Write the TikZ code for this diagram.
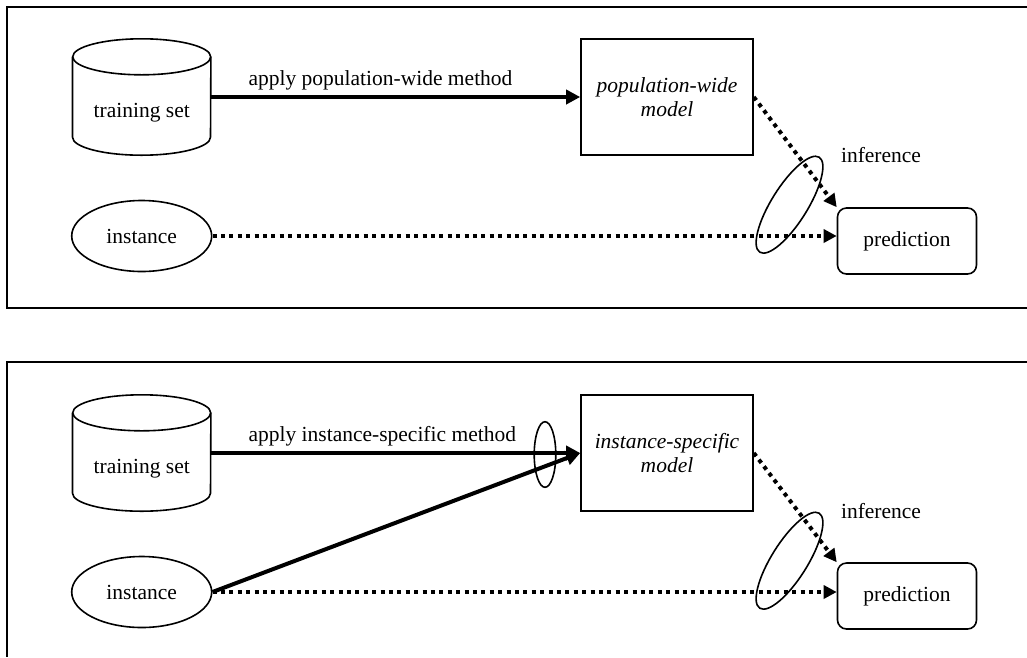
\documentclass[tikz,border=0pt]{standalone}
\usepackage{fontspec}
\setmainfont{Liberation Serif}
\usetikzlibrary{arrows.meta,shapes.geometric,calc}

\newcommand{\picsize}{\fontsize{21.5}{23.5}\selectfont}

\tikzset{
  frame/.style={line width=1.8pt},
  outline/.style={line width=1.6pt},
  dbnode/.style={minimum width=138pt, minimum height=116pt, inner sep=0pt,
    text height=45pt, text depth=5pt},
  modelbox/.style={draw, outline, minimum width=172pt, minimum height=116pt,
    inner sep=0pt, align=center, font=\picsize\itshape},
  instnode/.style={ellipse, draw, outline, minimum width=140pt,
    minimum height=71pt, inner sep=0pt},
  prednode/.style={rectangle, rounded corners=9pt, draw, outline,
    minimum width=139pt, minimum height=66pt, inner sep=0pt},
  ring/.style={ellipse, draw, outline, inner sep=0pt},
  learn/.style={line width=4pt, -{Triangle[length=14pt,width=14pt]}},
  infer/.style={line width=4pt, dash pattern=on 4pt off 4.4pt,
    -{Triangle[length=13pt,width=13pt]}},
}

\begin{document}
\begin{tikzpicture}[x=1pt, y=-1pt, font=\picsize]
  \useasboundingbox (0,0) rectangle (1027,657);

  % upper panel: population-wide
  \draw[frame] (1027,7) -- (6.6,7) -- (6.6,307.6) -- (1027,307.6);
  \node[dbnode] (train1) at (141.7,97) {training set};
  \draw[outline] (train1.north) ++(0,18) ellipse [x radius=69, y radius=18];
  \draw[outline] ($(train1.north west)+(0,18)$) -- ($(train1.south west)+(0,-18)$)
    arc [start angle=180, end angle=360, x radius=69pt, y radius=18pt]
    -- ($(train1.north east)+(0,18)$);
  \node[modelbox] (pop) at (667,97) {population-wide\\model};
  \node[instnode] (inst1) at (141.7,236) {instance};
  \node[prednode] (pred1) at (907,241) {prediction};
  \node[anchor=base west] (meth1) at (245,85.7) {apply population-wide method};
  \draw[learn] (train1.east) -- (pop.west);
  \draw[infer] (inst1.east) -- (inst1.east -| pred1.west);
  \draw[infer] (pop.east) -- (pred1.north west);
  \node[ring, minimum width=112pt, minimum height=36pt, rotate=58] (ring1) at (789.5,204.7) {};
  \node (infl1) at (881,155) {inference};

  % lower panel: instance-specific
  \draw[frame] (1027,362) -- (6.6,362) -- (6.6,657);
  \node[dbnode] (train2) at (141.7,453) {training set};
  \draw[outline] (train2.north) ++(0,18) ellipse [x radius=69, y radius=18];
  \draw[outline] ($(train2.north west)+(0,18)$) -- ($(train2.south west)+(0,-18)$)
    arc [start angle=180, end angle=360, x radius=69pt, y radius=18pt]
    -- ($(train2.north east)+(0,18)$);
  \node[modelbox] (spec) at (667,453) {instance-specific\\model};
  \node[instnode] (inst2) at (141.7,592) {instance};
  \node[prednode] (pred2) at (907,596) {prediction};
  \node[anchor=base west] (meth2) at (245,441.7) {apply instance-specific method};
  \draw[learn] (train2.east) -- (spec.west);
  \draw[learn] (inst2.east) -- (spec.west);
  \node[ring, minimum width=21.6pt, minimum height=65.6pt] (ring3) at (545,454.5) {};
  \draw[infer] (inst2.east) -- (inst2.east -| pred2.west);
  \draw[infer] (spec.east) -- (pred2.north west);
  \node[ring, minimum width=112pt, minimum height=36pt, rotate=58] (ring2) at (789.5,560.7) {};
  \node (infl2) at (881,511) {inference};
\end{tikzpicture}
\end{document}
